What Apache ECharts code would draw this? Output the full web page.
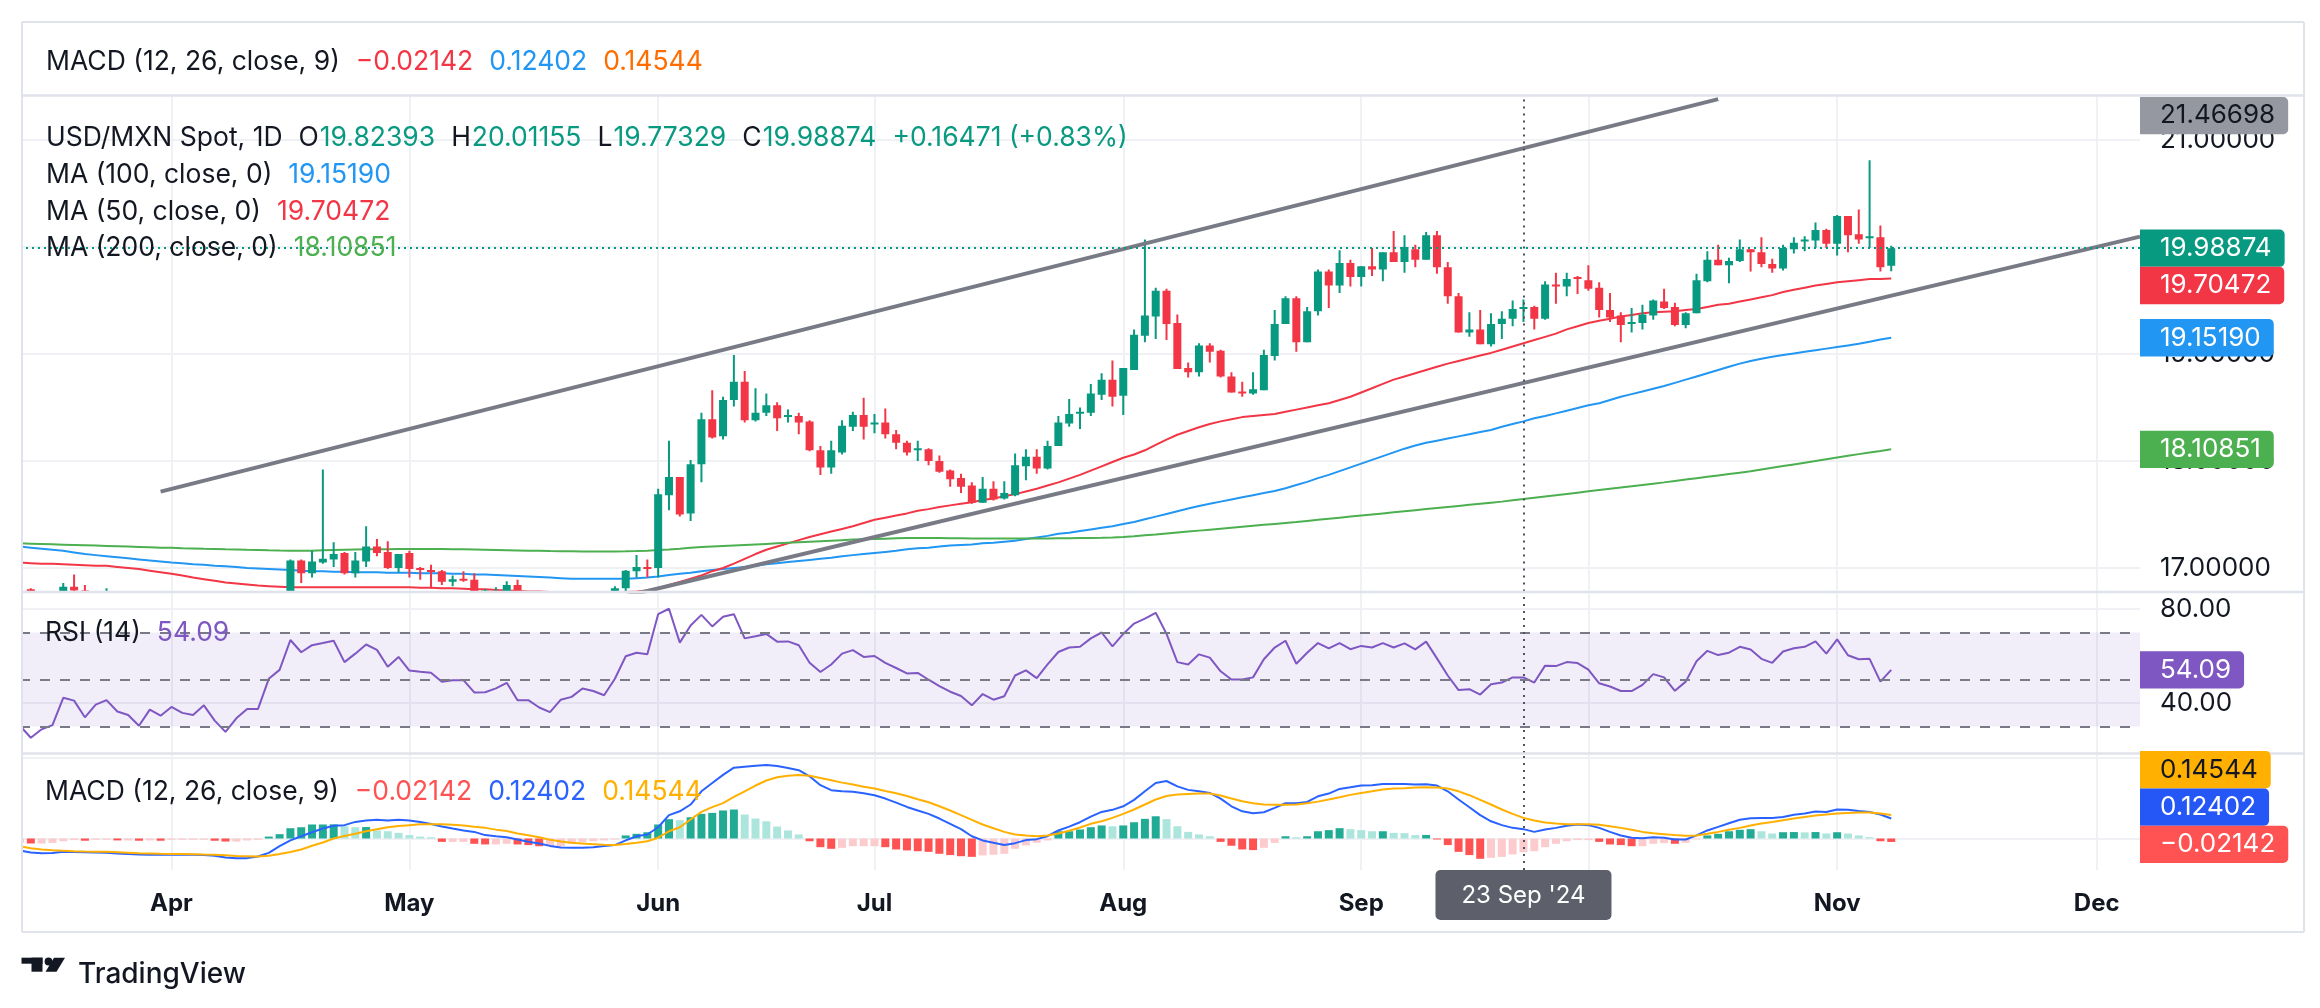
<!DOCTYPE html>
<html><head><meta charset="utf-8">
<script src="https://cdn.jsdelivr.net/npm/echarts@6/dist/echarts.min.js"></script>
<style>html,body{margin:0;padding:0;background:#fff;}#c{width:2320px;height:1008px;}</style>
</head><body><div id="c"></div>
<script>
// ---------- categories (trading days, 2024) ----------
const dates = [
'03-12','03-13','03-14','03-15','03-18','03-19','03-20','03-21','03-22','03-25','03-26','03-27','03-28','03-29',
'04-01','04-02','04-03','04-04','04-05','04-08','04-09','04-10','04-11','04-12','04-15','04-16','04-17','04-18','04-19','04-22','04-23','04-24','04-25','04-26','04-29','04-30',
'05-01','05-02','05-03','05-06','05-07','05-08','05-09','05-10','05-13','05-14','05-15','05-16','05-17','05-20','05-21','05-22','05-23','05-24','05-27','05-28','05-29','05-30','05-31',
'06-03','06-04','06-05','06-06','06-07','06-10','06-11','06-12','06-13','06-14','06-17','06-18','06-19','06-20','06-21','06-24','06-25','06-26','06-27','06-28',
'07-01','07-02','07-03','07-04','07-05','07-08','07-09','07-10','07-11','07-12','07-15','07-16','07-17','07-18','07-19','07-22','07-23','07-24','07-25','07-26','07-29','07-30','07-31',
'08-01','08-02','08-05','08-06','08-07','08-08','08-09','08-12','08-13','08-14','08-15','08-16','08-19','08-20','08-21','08-22','08-23','08-26','08-27','08-28','08-29','08-30',
'09-02','09-03','09-04','09-05','09-06','09-09','09-10','09-11','09-12','09-13','09-16','09-17','09-18','09-19','09-20','09-23','09-24','09-25','09-26','09-27','09-30',
'10-01','10-02','10-03','10-04','10-07','10-08','10-09','10-10','10-11','10-14','10-15','10-16','10-17','10-18','10-21','10-22','10-23','10-24','10-25','10-28','10-29','10-30','10-31',
'11-01','11-04','11-05','11-06','11-07','11-08'];
const futureSlots = ['f1','f2','f3','f4','f5','f6','f7','f8','f9','f10','f11','f12','f13','f14','f15','f16','f17','f18','f19','f20','f21','f22','f23'];
const monthTicks = {'04-01':'Apr','05-01':'May','06-03':'Jun','07-01':'Jul','08-01':'Aug','09-02':'Sep','10-01':'Oct','11-01':'Nov','f19':'Dec'};
const crosshairDate = '09-23';
const crosshairLabel = "23 Sep '24";

// ---------- OHLC [open, high, low, close] ----------
const candles = [
[16.76,16.80,16.72,16.78],[16.80,16.81,16.72,16.74],[16.74,16.77,16.66,16.70],[16.70,16.77,16.65,16.74],[16.74,16.86,16.70,16.825],
[16.825,16.94,16.75,16.79],[16.79,16.84,16.60,16.64],[16.64,16.72,16.55,16.69],[16.69,16.81,16.62,16.74],[16.74,16.77,16.62,16.66],
[16.66,16.70,16.60,16.63],[16.63,16.66,16.52,16.55],[16.55,16.68,16.50,16.62],[16.62,16.64,16.54,16.58],[16.58,16.70,16.54,16.63],
[16.63,16.67,16.52,16.58],[16.58,16.62,16.50,16.56],[16.56,16.66,16.48,16.60],[16.60,16.62,16.45,16.50],[16.50,16.52,16.37,16.40],
[16.40,16.50,16.26,16.45],[16.45,16.55,16.40,16.51],[16.51,16.56,16.44,16.51],[16.51,16.74,16.48,16.70],[16.70,16.77,16.63,16.75],
[16.75,17.08,16.73,17.07],[17.07,17.08,16.86,16.95],[16.95,17.16,16.91,17.06],[17.05,17.92,17.04,17.085],[17.08,17.24,17.01,17.13],
[17.14,17.15,16.94,16.95],[16.95,17.15,16.91,17.07],[17.06,17.39,17.01,17.20],[17.20,17.27,17.11,17.14],[17.15,17.25,16.99,17.00],
[17.00,17.13,16.96,17.13],[17.14,17.16,16.91,16.99],[17.00,17.01,16.89,16.99],[16.98,17.03,16.81,16.975],[16.97,16.98,16.84,16.87],
[16.87,16.93,16.83,16.895],[16.90,16.97,16.87,16.88],[16.89,16.95,16.74,16.76],[16.76,16.80,16.72,16.79],[16.76,16.82,16.72,16.775],
[16.77,16.875,16.74,16.84],[16.84,16.89,16.66,16.70],[16.70,16.76,16.62,16.70],[16.70,16.72,16.60,16.64],[16.64,16.66,16.55,16.60],
[16.60,16.70,16.58,16.68],[16.68,16.74,16.64,16.70],[16.70,16.77,16.67,16.76],[16.76,16.77,16.68,16.73],[16.73,16.76,16.66,16.70],
[16.70,16.83,16.68,16.81],[16.81,16.98,16.78,16.975],[16.97,17.12,16.91,17.01],[17.01,17.08,16.91,17.005],[17.00,17.74,16.91,17.69],
[17.68,18.19,17.54,17.85],[17.85,17.85,17.48,17.50],[17.51,18.01,17.44,17.97],[17.97,18.45,17.80,18.39],[18.39,18.66,18.21,18.22],
[18.23,18.60,18.20,18.57],[18.57,18.99,18.51,18.74],[18.74,18.84,18.36,18.38],[18.38,18.68,18.37,18.45],[18.45,18.63,18.42,18.52],
[18.52,18.55,18.28,18.40],[18.42,18.48,18.36,18.43],[18.42,18.45,18.25,18.36],[18.37,18.38,18.09,18.10],[18.10,18.14,17.87,17.94],
[17.94,18.19,17.88,18.10],[18.08,18.38,18.06,18.33],[18.32,18.46,18.28,18.43],[18.43,18.59,18.20,18.32],[18.34,18.44,18.26,18.36],
[18.36,18.49,18.21,18.25],[18.25,18.29,18.11,18.17],[18.17,18.19,18.05,18.08],[18.11,18.19,18.00,18.12],[18.11,18.12,17.96,18.00],
[18.00,18.05,17.89,17.90],[17.91,17.92,17.76,17.83],[17.84,17.88,17.70,17.76],[17.77,17.80,17.60,17.61],[17.61,17.85,17.61,17.74],
[17.74,17.81,17.63,17.64],[17.65,17.81,17.64,17.70],[17.68,18.07,17.67,17.96],[17.95,18.11,17.82,18.04],[18.04,18.11,17.88,17.93],
[17.93,18.19,17.92,18.14],[18.14,18.42,18.14,18.36],[18.35,18.58,18.32,18.44],[18.45,18.50,18.30,18.46],[18.45,18.72,18.42,18.63],
[18.62,18.82,18.57,18.76],[18.76,18.94,18.51,18.60],[18.61,18.87,18.43,18.87],[18.85,19.23,18.85,19.18],[19.17,20.07,19.11,19.36],
[19.35,19.62,19.14,19.59],[19.59,19.61,19.13,19.28],[19.29,19.37,18.86,18.86],[18.87,18.92,18.78,18.83],[18.83,19.10,18.79,19.08],
[19.08,19.10,18.92,19.02],[19.03,19.04,18.78,18.79],[18.79,18.83,18.64,18.64],[18.65,18.74,18.60,18.64],[18.63,18.83,18.62,18.67],
[18.66,19.04,18.66,18.99],[18.98,19.41,18.94,19.28],[19.28,19.54,19.28,19.52],[19.52,19.54,19.02,19.11],[19.11,19.44,19.11,19.40],
[19.40,19.79,19.36,19.77],[19.77,19.79,19.43,19.64],[19.64,19.97,19.57,19.85],[19.85,19.88,19.63,19.72],[19.72,19.82,19.63,19.82],
[19.82,19.99,19.73,19.79],[19.79,19.95,19.68,19.95],[19.95,20.15,19.86,19.86],[19.86,20.11,19.76,20.00],[19.98,20.02,19.81,19.88],
[19.88,20.14,19.88,20.11],[20.11,20.15,19.75,19.81],[19.81,19.86,19.47,19.54],[19.54,19.57,19.20,19.20],[19.20,19.39,19.16,19.23],
[19.23,19.41,19.09,19.09],[19.09,19.38,19.07,19.28],[19.28,19.40,19.14,19.33],[19.33,19.50,19.26,19.42],[19.42,19.51,19.30,19.44],
[19.44,19.45,19.23,19.33],[19.33,19.68,19.32,19.65],[19.65,19.76,19.47,19.64],[19.63,19.76,19.54,19.70],[19.72,19.73,19.56,19.70],
[19.69,19.83,19.59,19.61],[19.62,19.67,19.34,19.41],[19.41,19.57,19.30,19.34],[19.36,19.39,19.11,19.27],[19.29,19.43,19.20,19.30],
[19.29,19.46,19.23,19.37],[19.36,19.51,19.32,19.50],[19.49,19.61,19.42,19.43],[19.44,19.48,19.26,19.27],[19.27,19.39,19.24,19.38],
[19.38,19.75,19.38,19.69],[19.68,19.96,19.67,19.88],[19.88,20.02,19.83,19.83],[19.83,19.90,19.66,19.87],[19.87,20.07,19.86,19.98],
[19.98,19.98,19.77,19.95],[19.95,20.09,19.81,19.84],[19.84,19.89,19.76,19.80],[19.80,20.02,19.78,19.99],[19.98,20.09,19.94,20.04],
[20.06,20.10,19.96,20.07],[20.06,20.23,19.99,20.16],[20.16,20.17,19.99,20.03],[20.03,20.30,19.92,20.29],[20.29,20.29,19.95,20.11],
[20.12,20.35,20.03,20.07],[20.09,20.81,19.99,20.10],[20.09,20.20,19.77,19.81],[19.82393,20.01155,19.77329,19.98874]];

// ---------- moving averages ----------
const ma50 = [
17.05,17.045,17.04,17.04,17.035,17.03,17.025,17.02,17.02,17.01,17.00,16.99,16.975,16.96,16.945,16.93,16.91,16.895,16.88,16.865,
16.855,16.845,16.835,16.83,16.825,16.82,16.82,16.82,16.82,16.82,16.82,16.82,16.82,16.82,16.82,16.82,16.82,16.815,16.815,16.81,
16.81,16.805,16.80,16.80,16.795,16.79,16.785,16.78,16.78,16.775,16.77,16.77,16.765,16.765,16.765,16.77,16.775,16.78,16.79,16.81,
16.84,16.87,16.90,16.93,16.97,17.00,17.04,17.085,17.13,17.17,17.20,17.23,17.26,17.29,17.315,17.34,17.365,17.39,17.42,17.45,
17.47,17.49,17.51,17.535,17.55,17.57,17.585,17.60,17.615,17.635,17.65,17.67,17.69,17.715,17.74,17.77,17.80,17.835,17.87,17.91,
17.95,17.99,18.03,18.06,18.10,18.15,18.20,18.245,18.28,18.315,18.345,18.37,18.39,18.41,18.42,18.43,18.44,18.46,18.48,18.50,
18.52,18.54,18.57,18.60,18.64,18.68,18.72,18.76,18.79,18.82,18.85,18.88,18.91,18.935,18.96,18.985,19.01,19.04,19.07,19.10,
19.13,19.16,19.19,19.23,19.26,19.29,19.31,19.33,19.35,19.365,19.38,19.39,19.395,19.40,19.41,19.42,19.44,19.46,19.47,19.49,
19.51,19.53,19.55,19.58,19.60,19.62,19.64,19.655,19.67,19.68,19.69,19.70,19.70,19.70472];
const ma100 = [
17.20,17.19,17.18,17.17,17.16,17.145,17.13,17.12,17.11,17.10,17.09,17.08,17.07,17.06,17.05,17.045,17.035,17.03,17.02,17.015,
17.01,17.00,16.995,16.99,16.985,16.98,16.975,16.97,16.97,16.965,16.965,16.96,16.96,16.96,16.955,16.955,16.955,16.95,16.95,16.95,
16.945,16.945,16.94,16.94,16.935,16.93,16.925,16.92,16.915,16.91,16.905,16.90,16.90,16.90,16.90,16.90,16.90,16.905,16.91,16.92,
16.935,16.945,16.955,16.97,16.98,16.99,17.00,17.01,17.02,17.035,17.045,17.055,17.065,17.075,17.085,17.095,17.11,17.12,17.13,17.14,
17.15,17.16,17.175,17.185,17.19,17.20,17.21,17.215,17.22,17.23,17.235,17.245,17.255,17.27,17.285,17.30,17.32,17.33,17.345,17.36,
17.375,17.39,17.41,17.43,17.455,17.48,17.505,17.53,17.555,17.58,17.60,17.62,17.64,17.66,17.68,17.70,17.72,17.745,17.775,17.805,
17.84,17.87,17.905,17.94,17.975,18.01,18.045,18.08,18.115,18.145,18.17,18.19,18.21,18.23,18.25,18.27,18.29,18.32,18.345,18.37,
18.40,18.42,18.445,18.47,18.495,18.52,18.54,18.57,18.60,18.625,18.65,18.675,18.70,18.73,18.76,18.79,18.82,18.85,18.88,18.91,
18.935,18.955,18.975,18.99,19.005,19.02,19.035,19.05,19.065,19.08,19.095,19.115,19.135,19.1519];
const ma200 = [
17.23,17.227,17.224,17.221,17.218,17.215,17.212,17.209,17.206,17.203,17.20,17.197,17.194,17.19,17.188,17.185,17.183,17.18,17.178,17.175,
17.173,17.17,17.168,17.165,17.163,17.162,17.161,17.162,17.165,17.168,17.17,17.172,17.174,17.175,17.176,17.177,17.178,17.178,17.178,17.177,
17.176,17.174,17.172,17.17,17.168,17.166,17.164,17.162,17.16,17.158,17.157,17.156,17.155,17.155,17.155,17.155,17.156,17.158,17.162,17.167,
17.173,17.18,17.188,17.195,17.20,17.205,17.21,17.215,17.22,17.225,17.23,17.235,17.24,17.245,17.25,17.255,17.26,17.265,17.268,17.271,
17.274,17.277,17.279,17.28,17.28,17.279,17.278,17.277,17.276,17.275,17.275,17.275,17.275,17.275,17.275,17.276,17.277,17.278,17.279,17.28,
17.282,17.285,17.29,17.297,17.305,17.313,17.322,17.331,17.34,17.349,17.358,17.367,17.376,17.385,17.394,17.403,17.412,17.421,17.43,17.44,
17.45,17.46,17.47,17.48,17.49,17.50,17.51,17.52,17.53,17.54,17.55,17.56,17.57,17.58,17.59,17.60,17.61,17.62,17.632,17.644,
17.656,17.668,17.68,17.692,17.704,17.716,17.728,17.74,17.752,17.764,17.776,17.788,17.80,17.813,17.826,17.839,17.852,17.865,17.878,17.891,
17.904,17.92,17.936,17.952,17.968,17.984,18.00,18.016,18.032,18.048,18.064,18.08,18.094,18.10851];

// ---------- drawn channel lines [category index, price] ----------
const upperTrend = [[13,17.713],[157,21.382]];
const lowerTrend = [[50,16.593],[196,20.097]];

// ---------- RSI (14) ----------
const rsi = [
30.3,25.2,28.8,30.6,42.2,41.0,33.9,39.3,41.2,36.4,34.9,30.3,37.2,34.6,38.3,35.8,34.9,39.0,32.5,27.7,
33.5,37.4,37.4,50.3,54.1,66.8,61.6,64.6,65.5,66.5,57.4,61.0,64.9,62.6,55.4,59.6,53.8,53.3,52.9,49.0,
49.7,49.7,44.5,44.6,46.2,48.6,41.2,41.2,38.1,36.1,41.4,42.6,46.2,45.1,43.3,50.3,59.9,61.4,60.7,77.8,
80.1,65.7,73.0,77.5,72.6,76.7,77.8,67.5,68.4,69.4,66.1,66.2,64.6,57.1,53.2,56.4,61.0,62.5,59.6,60.0,
57.1,54.9,52.6,52.8,49.9,47.2,44.8,43.0,39.0,43.8,41.4,42.9,51.7,53.9,50.6,56.4,61.7,63.6,63.9,67.5,
70.0,64.1,69.4,73.8,75.9,78.4,69.4,57.4,56.4,60.7,59.3,53.5,50.0,50.0,50.9,58.6,63.6,66.5,56.7,61.4,
65.5,63.2,65.5,62.9,64.3,63.6,65.5,63.6,65.4,62.8,66.1,59.0,51.7,45.5,45.9,43.6,48.0,48.7,50.9,50.9,
48.7,55.9,55.7,57.4,57.0,54.2,48.4,47.0,45.1,45.1,47.7,52.3,50.9,45.2,49.1,57.8,62.2,60.4,61.4,63.9,
62.8,58.8,57.1,61.9,63.3,63.9,66.2,61.0,67.1,60.3,58.6,58.8,49.1,54.09];

// ---------- MACD (12, 26, close, 9) ----------
const macdLine = [
-0.074,-0.087,-0.092,-0.090,-0.083,-0.084,-0.085,-0.087,-0.089,-0.093,-0.097,-0.100,-0.101,-0.101,-0.101,-0.101,-0.101,-0.103,-0.107,-0.118,
-0.122,-0.122,-0.112,-0.089,-0.048,-0.012,0.014,0.039,0.062,0.079,0.083,0.103,0.112,0.117,0.112,0.116,0.112,0.103,0.090,0.075,
0.062,0.050,0.041,0.021,0.014,0.008,-0.006,-0.020,-0.031,-0.046,-0.056,-0.058,-0.057,-0.054,-0.047,-0.041,-0.012,0.014,0.025,0.070,
0.145,0.169,0.211,0.293,0.345,0.395,0.440,0.446,0.452,0.457,0.450,0.438,0.424,0.386,0.331,0.300,0.293,0.291,0.281,0.269,
0.248,0.223,0.196,0.174,0.153,0.124,0.091,0.058,0.014,-0.012,-0.027,-0.041,-0.029,-0.010,-0.004,0.014,0.050,0.074,0.101,0.136,
0.165,0.178,0.200,0.240,0.293,0.345,0.357,0.324,0.302,0.293,0.283,0.248,0.200,0.169,0.157,0.163,0.190,0.219,0.219,0.227,
0.262,0.279,0.308,0.318,0.329,0.331,0.339,0.339,0.339,0.336,0.337,0.329,0.293,0.242,0.194,0.145,0.107,0.083,0.066,0.058,
0.041,0.056,0.066,0.079,0.087,0.083,0.066,0.041,0.019,0.004,0.002,0.008,0.004,-0.006,-0.006,0.019,0.050,0.072,0.095,0.116,
0.126,0.128,0.128,0.134,0.147,0.155,0.167,0.165,0.180,0.178,0.171,0.165,0.149,0.12402];
const signalLine = [
-0.048,-0.060,-0.068,-0.073,-0.076,-0.079,-0.081,-0.082,-0.083,-0.085,-0.088,-0.091,-0.093,-0.095,-0.096,-0.097,-0.098,-0.100,-0.101,-0.104,
-0.108,-0.110,-0.112,-0.107,-0.096,-0.084,-0.068,-0.045,-0.025,0.000,0.015,0.029,0.045,0.058,0.070,0.077,0.083,0.088,0.089,0.088,
0.086,0.081,0.073,0.066,0.055,0.047,0.031,0.020,0.008,-0.008,-0.018,-0.027,-0.031,-0.035,-0.039,-0.041,-0.034,-0.026,-0.017,0.005,
0.045,0.070,0.118,0.165,0.195,0.220,0.258,0.293,0.329,0.360,0.380,0.390,0.395,0.390,0.376,0.362,0.347,0.335,0.322,0.310,
0.295,0.281,0.264,0.244,0.225,0.200,0.174,0.145,0.116,0.087,0.064,0.041,0.025,0.019,0.014,0.019,0.031,0.048,0.068,0.091,
0.107,0.128,0.153,0.180,0.211,0.242,0.264,0.273,0.277,0.279,0.279,0.267,0.248,0.231,0.219,0.211,0.209,0.209,0.211,0.219,
0.229,0.242,0.256,0.271,0.283,0.293,0.304,0.310,0.312,0.316,0.318,0.316,0.310,0.293,0.269,0.240,0.211,0.180,0.153,0.128,
0.112,0.099,0.093,0.089,0.089,0.089,0.085,0.076,0.066,0.054,0.041,0.033,0.027,0.021,0.017,0.019,0.029,0.041,0.054,0.066,
0.081,0.093,0.103,0.114,0.124,0.134,0.143,0.149,0.155,0.159,0.161,0.161,0.155,0.14544];
const histogram = [
-0.026,-0.031,-0.031,-0.027,-0.017,-0.010,-0.014,-0.008,-0.008,-0.012,-0.012,-0.014,-0.012,-0.014,-0.008,-0.008,-0.008,-0.008,-0.014,-0.019,
-0.019,-0.012,-0.008,0.012,0.027,0.064,0.070,0.087,0.087,0.088,0.076,0.070,0.071,0.050,0.045,0.035,0.021,0.012,0.008,-0.021,
-0.021,-0.021,-0.033,-0.037,-0.037,-0.033,-0.037,-0.041,-0.048,-0.048,-0.048,-0.033,-0.021,-0.017,-0.012,-0.006,0.019,0.029,0.039,0.087,
0.120,0.114,0.132,0.153,0.159,0.174,0.180,0.149,0.124,0.107,0.074,0.050,0.025,-0.017,-0.054,-0.064,-0.058,-0.048,-0.048,-0.048,
-0.054,-0.068,-0.074,-0.079,-0.083,-0.095,-0.103,-0.110,-0.114,-0.105,-0.101,-0.095,-0.064,-0.043,-0.027,-0.012,0.045,0.045,0.056,0.070,
0.081,0.076,0.081,0.101,0.122,0.138,0.120,0.076,0.041,0.025,0.014,-0.021,-0.045,-0.068,-0.072,-0.058,-0.027,0.014,0.008,0.014,
0.045,0.052,0.064,0.058,0.052,0.045,0.045,0.035,0.033,0.021,0.022,-0.006,-0.041,-0.083,-0.103,-0.126,-0.120,-0.114,-0.099,-0.085,
-0.079,-0.054,-0.033,-0.017,-0.010,-0.010,-0.021,-0.037,-0.041,-0.048,-0.048,-0.033,-0.029,-0.033,-0.027,-0.004,0.019,0.029,0.045,0.054,
0.058,0.045,0.031,0.039,0.040,0.038,0.040,0.031,0.039,0.031,0.019,0.008,-0.017,-0.02142];

// ---------- tick labels ----------
const priceTicks = [17,18,19,20,21];
const rsiTicks = [80,40];
const macdTicks = [0,0.5];
const rsiBands = [70,50,30];

// ---------- chart ----------
const FONT = 'Inter, "Noto Sans", "DejaVu Sans", sans-serif';
const TXT = '#131722';
const GRIDC = '#EFF1F5';
const UP = '#089981', DN = '#F23645';
const cats = dates.concat(futureSlots);
const isTick = (i, v) => Object.prototype.hasOwnProperty.call(monthTicks, v);

const GL = 20, GR = 2140;
const G0 = {top: 95.5, bottom: 591.5}, G1 = {top: 593, bottom: 753}, G2 = {top: 754, bottom: 870};

function xAxis(gi, showLabel) {
  return {
    type: 'category', gridIndex: gi, data: cats, boundaryGap: false,
    axisLine: {show: false}, axisTick: {show: false},
    axisLabel: {show: showLabel, interval: isTick, formatter: v => monthTicks[v] || '',
      fontFamily: FONT, fontSize: 24, fontWeight: 'bold', color: TXT, margin: 22},
    splitLine: {show: true, interval: isTick, lineStyle: {color: GRIDC, width: 2}}
  };
}
function yAxis(gi, min, max, ticks, fmt, show) {
  return {
    type: 'value', gridIndex: gi, position: 'right', min: min, max: max, scale: true,
    axisLine: {show: false},
    axisTick: {show: false, customValues: ticks},
    axisLabel: {show: show, customValues: ticks, formatter: fmt, fontFamily: FONT, fontSize: 26, color: TXT, margin: 20},
    splitLine: {show: true, lineStyle: {color: GRIDC, width: 2}}
  };
}

const chart = echarts.init(document.getElementById('c'), null, {renderer: 'canvas'});
const histColors = histogram.map((v, i) => {
  const p = i ? histogram[i - 1] : v;
  return v >= 0 ? (v >= p ? '#22AB94' : '#ACE5DC') : (v < p ? '#FF5252' : '#FCCBCD');
});
const crossLine = {xAxis: crosshairDate, lineStyle: {type: [2, 5], color: '#50535E', width: 2}};
const noSym = ['none', 'none'];

// candles drawn through the axes' own scales, clipped to the price pane
function renderCandle(params, api) {
  const i = api.value(0), o = api.value(1), h = api.value(2), l = api.value(3), c = api.value(4);
  const pO = api.coord([i, o]), pC = api.coord([i, c]), pH = api.coord([i, h]), pL = api.coord([i, l]);
  const col = c >= o ? UP : DN;
  const bw = 8;
  const top = Math.min(pO[1], pC[1]);
  const bh = Math.max(Math.abs(pO[1] - pC[1]), 2);
  return {type: 'group', children: [
    {type: 'rect', shape: {x: pO[0] - 1, y: pH[1], width: 2, height: pL[1] - pH[1]}, style: {fill: col}},
    {type: 'rect', shape: {x: pO[0] - bw / 2, y: top, width: bw, height: bh}, style: {fill: col}}
  ]};
}

const option = {
  animation: false,
  backgroundColor: '#ffffff',
  textStyle: {fontFamily: FONT},
  grid: [
    {left: GL, width: GR - GL, top: G0.top, height: G0.bottom - G0.top},
    {left: GL, width: GR - GL, top: G1.top, height: G1.bottom - G1.top},
    {left: GL, width: GR - GL, top: G2.top, height: G2.bottom - G2.top}
  ],
  xAxis: [xAxis(0, false), xAxis(1, false), xAxis(2, true)],
  yAxis: [
    yAxis(0, 16.780, 21.416, priceTicks, v => v.toFixed(5), true),
    yAxis(1, 18.72, 86.81, rsiTicks, v => v.toFixed(2), true),
    yAxis(2, -0.1957, 0.5248, macdTicks, v => v.toFixed(5), false)
  ],
  series: [
    {type: 'custom', name: 'USD/MXN', xAxisIndex: 0, yAxisIndex: 0, clip: true, z: 3,
      renderItem: renderCandle,
      encode: {x: 0, y: [1, 2, 3, 4]},
      data: candles.map((r, i) => [i, r[0], r[1], r[2], r[3]])},
    {type: 'line', name: 'MA100', xAxisIndex: 0, yAxisIndex: 0, data: ma100, showSymbol: false, z: 2,
      lineStyle: {color: '#2196F3', width: 2}},
    {type: 'line', name: 'MA50', xAxisIndex: 0, yAxisIndex: 0, data: ma50, showSymbol: false, z: 2,
      lineStyle: {color: '#F23645', width: 2}},
    {type: 'line', name: 'MA200', xAxisIndex: 0, yAxisIndex: 0, data: ma200, showSymbol: false, z: 2,
      lineStyle: {color: '#4CAF50', width: 2},
      markLine: {silent: true, symbol: noSym, label: {show: false},
        data: [{yAxis: candles[candles.length - 1][3], lineStyle: {type: [2, 4], color: UP, width: 2}}, crossLine]}},
    {type: 'line', xAxisIndex: 0, yAxisIndex: 0, data: upperTrend.map(p => [cats[p[0]], p[1]]), showSymbol: false, z: 4,
      lineStyle: {color: '#787B86', width: 4}},
    {type: 'line', xAxisIndex: 0, yAxisIndex: 0, data: lowerTrend.map(p => [cats[p[0]], p[1]]), showSymbol: false, z: 4,
      lineStyle: {color: '#787B86', width: 4}},
    {type: 'line', name: 'RSI', xAxisIndex: 1, yAxisIndex: 1, data: rsi, showSymbol: false, z: 3,
      lineStyle: {color: '#7E57C2', width: 2},
      markArea: {silent: true, itemStyle: {color: 'rgba(126,87,194,0.1)'}, data: [[{yAxis: rsiBands[2]}, {yAxis: rsiBands[0]}]]},
      markLine: {silent: true, symbol: noSym, label: {show: false},
        data: rsiBands.map(b => ({yAxis: b, lineStyle: {type: [10, 10], color: '#787B86', width: 2}})).concat([crossLine])}
    },
    {type: 'bar', name: 'Histogram', xAxisIndex: 2, yAxisIndex: 2, barWidth: 8, z: 2,
      data: histogram.map((v, i) => ({value: v, itemStyle: {color: histColors[i]}}))},
    {type: 'line', name: 'MACD', xAxisIndex: 2, yAxisIndex: 2, data: macdLine, showSymbol: false, z: 3,
      lineStyle: {color: '#2962FF', width: 2},
      markLine: {silent: true, symbol: noSym, label: {show: false}, data: [crossLine]}},
    {type: 'line', name: 'Signal', xAxisIndex: 2, yAxisIndex: 2, data: signalLine, showSymbol: false, z: 3,
      lineStyle: {color: '#FFB000', width: 2}}
  ]
};

// legends as titles
const LF = 26.5;
const R = (c, extra) => Object.assign({color: c, fontSize: LF, fontWeight: 'normal', fontFamily: FONT, lineHeight: 30}, extra || {});
const gap = {padding: [0, 0, 0, 16]};
option.title = [
  {left: 41, top: 42, text: '{a|MACD (12, 26, close, 9)}{r|−0.02142}{b|0.12402}{o|0.14544}',
    textStyle: {fontWeight: 'normal', rich: {a: R(TXT), r: R('#F23645', gap), b: R('#2196F3', gap), o: R('#FF6D00', gap)}}},
  {left: 41, top: 118, text: '{a|USD/MXN Spot, 1D}{k|O}{g|19.82393}{k|H}{g|20.01155}{k|L}{g|19.77329}{k|C}{g|19.98874}{c|+0.16471 (+0.83%)}',
    textStyle: {fontWeight: 'normal', rich: {a: R(TXT), k: R(TXT, {padding: [0, 1, 0, 16]}), g: R(UP), c: R(UP, gap)}}},
  {left: 41, top: 155, text: '{a|MA (100, close, 0)}{v|19.15190}', textStyle: {fontWeight: 'normal', rich: {a: R(TXT), v: R('#2196F3', gap)}}},
  {left: 41, top: 192, text: '{a|MA (50, close, 0)}{v|19.70472}', textStyle: {fontWeight: 'normal', rich: {a: R(TXT), v: R('#F23645', gap)}}},
  {left: 41, top: 228, text: '{a|MA (200, close, 0)}{v|18.10851}', textStyle: {fontWeight: 'normal', rich: {a: R(TXT), v: R('#4CAF50', gap)}}},
  {left: 40, top: 613, text: '{a|RSI (14)}{v|54.09}', textStyle: {fontWeight: 'normal', rich: {a: R(TXT), v: R('#7E57C2', gap)}}},
  {left: 40, top: 772, text: '{a|MACD (12, 26, close, 9)}{r|−0.02142}{b|0.12402}{o|0.14544}',
    textStyle: {fontWeight: 'normal', rich: {a: R(TXT), r: R('#FF5252', gap), b: R('#2962FF', gap), o: R('#FFB000', gap)}}},
  {left: 73, top: 954, text: 'TradingView', textStyle: {color: TXT, fontSize: 28, fontWeight: 500, fontFamily: FONT, lineHeight: 32}}
];
chart.setOption(option);

// ---------- overlays (frame, price-scale labels, crosshair label) ----------
const ctx = document.createElement('canvas').getContext('2d');
const LBL_FONT = '26px ' + FONT;
ctx.font = LBL_FONT;
const BOX_H = 37.3;
function stack(items, minY, maxY) {
  items.sort((a, b) => a.y - b.y);
  items.forEach((it, i) => {
    let c = Math.max(it.y, minY + BOX_H / 2);
    if (i > 0) c = Math.max(c, items[i - 1].cy + BOX_H);
    it.cy = c;
  });
  const over = items[items.length - 1].cy + BOX_H / 2 - maxY;
  if (over > 0) items.forEach(it => it.cy -= over);
  return items;
}
const yPix = (axis, v) => chart.convertToPixel({yAxisIndex: axis}, v);
const priceLabels = stack([
  {text: '21.46698', bg: '#9598A1', fg: '#131722', y: yPix(0, 21.46698)},
  {text: '19.98874', bg: UP, fg: '#fff', y: yPix(0, 19.98874)},
  {text: '19.70472', bg: DN, fg: '#fff', y: yPix(0, 19.70472)},
  {text: '19.15190', bg: '#2196F3', fg: '#fff', y: yPix(0, 19.15190)},
  {text: '18.10851', bg: '#4CAF50', fg: '#fff', y: yPix(0, 18.10851)}
], G0.top + 1.5, G0.bottom);
const rsiLabels = stack([{text: '54.09', bg: '#7E57C2', fg: '#fff', y: yPix(1, 54.09)}], G1.top, G1.bottom);
const macdLabels = stack([
  {text: '0.14544', bg: '#FFB000', fg: '#131722', y: yPix(2, 0.14544)},
  {text: '0.12402', bg: '#2457F5', fg: '#fff', y: yPix(2, 0.12402)},
  {text: '−0.02142', bg: '#FF5252', fg: '#fff', y: yPix(2, -0.02142)}
], G2.top, G2.bottom - 7);

const gfx = [];
const line = (x1, y1, x2, y2, w, c) => gfx.push({type: 'line', z: 50, silent: true,
  shape: {x1, y1, x2, y2}, style: {stroke: c || '#E0E3EB', lineWidth: w || 2}});
line(22, 22, 2304, 22, 2); line(22, 22, 22, 932, 2); line(2304, 22, 2304, 932, 2); line(22, 932, 2304, 932, 2);
line(22, 95.5, 2304, 95.5, 2.5); line(22, 592, 2304, 592, 2.5); line(22, 753.5, 2304, 753.5, 2.5);
gfx.push({type: 'rect', z: 49, silent: true, shape: {x: 0, y: 90, width: 21, height: 800}, style: {fill: '#fff'}});

[priceLabels, rsiLabels, macdLabels].forEach(group => group.forEach(it => {
  const w = ctx.measureText(it.text).width + 33;
  gfx.push({type: 'rect', z: 60, silent: true, shape: {x: GR, y: it.cy - BOX_H / 2, width: w, height: BOX_H, r: [0, 5, 5, 0]},
    style: {fill: it.bg}});
  gfx.push({type: 'text', z: 61, silent: true, x: GR + 20, y: it.cy,
    style: {text: it.text, fill: it.fg, font: LBL_FONT, textAlign: 'left', textVerticalAlign: 'middle', verticalAlign: 'middle'}});
}));

const cx = chart.convertToPixel({xAxisIndex: 2}, crosshairDate);
gfx.push({type: 'rect', z: 60, silent: true, shape: {x: cx - 88, y: 870, width: 176, height: 50, r: 5}, style: {fill: '#5D606B'}});
gfx.push({type: 'text', z: 61, silent: true, x: cx, y: 896,
  style: {text: crosshairLabel, fill: '#fff', font: '24px ' + FONT, textAlign: 'center', textVerticalAlign: 'middle', verticalAlign: 'middle'}});

gfx.push({type: 'rect', z: 60, silent: true, shape: {x: 21.5, y: 957.7, width: 21, height: 6}, style: {fill: TXT}});
gfx.push({type: 'rect', z: 60, silent: true, shape: {x: 31.5, y: 957.7, width: 11, height: 14}, style: {fill: TXT}});
gfx.push({type: 'circle', z: 60, silent: true, shape: {cx: 48.5, cy: 961.5, r: 3.9}, style: {fill: TXT}});
gfx.push({type: 'polygon', z: 60, silent: true, shape: {points: [[54, 957.7], [65, 957.7], [56.5, 971.7], [45.5, 971.7]]}, style: {fill: TXT}});

chart.setOption({graphic: {elements: gfx}});
</script>
</body></html>
